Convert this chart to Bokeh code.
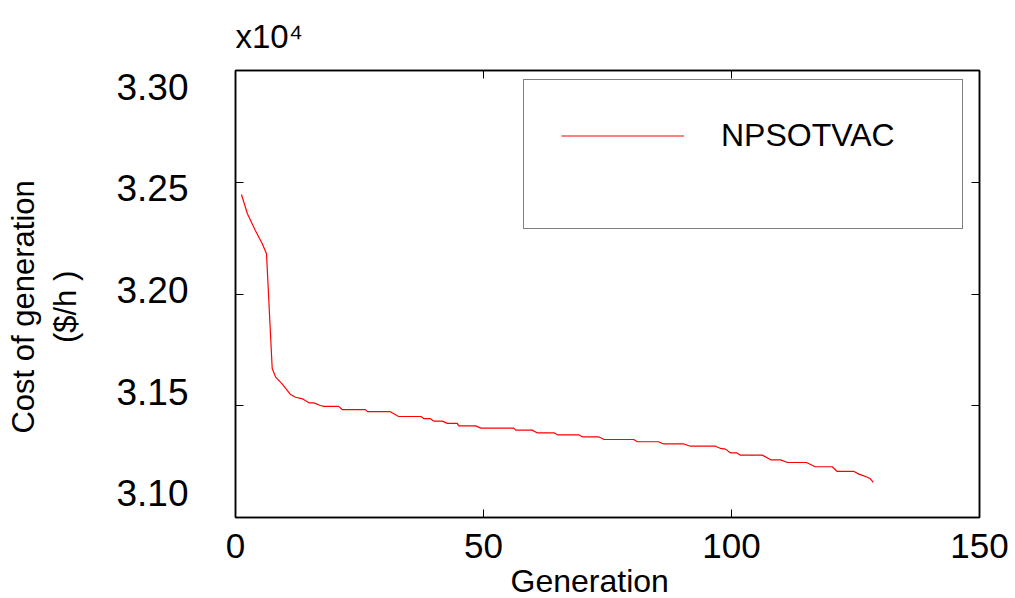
from bokeh.plotting import figure
from bokeh.models import (Range1d, LinearAxis, FixedTicker, NumeralTickFormatter,
                          CustomJSTickFormatter, Legend, LegendItem)
from bokeh.embed import file_html
from bokeh.resources import INLINE

# ---- data (cost in units of 10^4 $/h) ----
generation = [1.2, 2.4, 4.0, 5.4, 6.25, 7.4, 8.1, 9.4, 11.1, 12.1, 13.5, 14.8, 15.8,
              17.1, 17.8, 20.8, 21.5, 26.2, 26.6, 31.1, 32.9, 37.4, 38.0, 39.3, 40.0,
              41.7, 42.7, 44.7, 45.0, 48.4, 49.5, 56.1, 56.5, 59.8, 60.8, 64.2, 64.9,
              69.2, 69.9, 73.2, 74.3, 80.3, 81.0, 85.3, 86.3, 90.4, 91.7, 96.8, 97.8,
              98.8, 99.8, 101.1, 101.8, 106.2, 107.9, 109.9, 111.3, 115.1, 116.9,
              120.3, 121.3, 124.7, 125.7, 127.4, 128.0, 128.6]
cost = [3.2445, 3.2359, 3.2284, 3.2225, 3.2180, 3.1667, 3.1628, 3.1598, 3.1550,
        3.1538, 3.1531, 3.1513, 3.1513, 3.1501, 3.1497, 3.1497, 3.1483, 3.1483,
        3.1474, 3.1474, 3.1452, 3.1452, 3.1442, 3.1442, 3.1431, 3.1431, 3.1421,
        3.1421, 3.1410, 3.1410, 3.1400, 3.1400, 3.1391, 3.1391, 3.1379, 3.1379,
        3.1370, 3.1370, 3.1361, 3.1361, 3.1349, 3.1349, 3.1339, 3.1339, 3.1329,
        3.1329, 3.1319, 3.1319, 3.1309, 3.1306, 3.1289, 3.1289, 3.1279, 3.1279,
        3.1258, 3.1258, 3.1246, 3.1246, 3.1227, 3.1227, 3.1206, 3.1206, 3.1194,
        3.1180, 3.1173, 3.1157]
x_ticks = [0, 50, 100, 150]
y_ticks = [3.10, 3.15, 3.20, 3.25, 3.30]
series_name = "NPSOTVAC"
x_label = "Generation"
y_label_lines = ["Cost of generation", "($/h )"]
scale_text = "x10\u2074"

FONT = "Liberation Sans"
PAD = "\u00a0"  # non-breaking padding used to nudge centred labels like the original


def blank():
    # tick marks only, no tick texts
    return CustomJSTickFormatter(code="return ''")


p = figure(frame_width=744, frame_height=447,
           x_range=Range1d(0, 150), y_range=Range1d(3.10, 3.30),
           output_backend="svg", toolbar_location=None,
           min_border_left=235, min_border_top=70, min_border_right=36,
           min_border_bottom=81)
p.grid.visible = False
p.outline_line_color = "black"
p.outline_line_width = 1.5
p.background_fill_color = "white"

# scale factor shown above the axes
p.title.text = scale_text
p.title.align = "left"
p.title.offset = 0
p.title.text_font = FONT
p.title.text_font_size = "33px"
p.title.text_font_style = "normal"
p.title.text_color = "black"
p.title.standoff = 31

# bottom x axis
xa = p.xaxis[0]
xa.ticker = FixedTicker(ticks=x_ticks)
xa.major_label_text_font = FONT
xa.major_label_text_font_size = "35px"
xa.major_label_text_color = "black"
xa.major_tick_in = 8
xa.major_tick_out = 0
xa.minor_tick_line_color = None
xa.major_label_standoff = 16
xa.axis_line_color = "black"
xa.axis_line_width = 1.5
xa.axis_label = x_label + PAD * 4
xa.axis_label_text_font = FONT
xa.axis_label_text_font_size = "32px"
xa.axis_label_text_font_style = "normal"
xa.axis_label_text_color = "black"
xa.axis_label_standoff = 2

# left y axis: ticks only
ya = p.yaxis[0]
ya.ticker = FixedTicker(ticks=y_ticks)
ya.formatter = blank()
ya.major_tick_in = 8
ya.major_tick_out = 0
ya.minor_tick_line_color = None
ya.major_label_standoff = 0
ya.axis_line_color = "black"
ya.axis_line_width = 1.5

# y tick labels (placed as in the original figure)
p.extra_y_ranges = {"lab": Range1d(3.0881, 3.3079)}
yl = LinearAxis(y_range_name="lab", ticker=FixedTicker(ticks=y_ticks),
                formatter=NumeralTickFormatter(format="0.00"))
yl.axis_line_color = None
yl.major_tick_line_color = None
yl.major_tick_in = 0
yl.major_tick_out = 0
yl.minor_tick_line_color = None
yl.major_label_text_font = FONT
yl.major_label_text_font_size = "37px"
yl.major_label_text_color = "black"
yl.major_label_standoff = 47
yl.axis_label = "\n".join(line + PAD * 3 for line in y_label_lines)
yl.axis_label_text_font = FONT
yl.axis_label_text_font_size = "31px"
yl.axis_label_text_font_style = "normal"
yl.axis_label_text_color = "black"
yl.axis_label_standoff = 30
p.add_layout(yl, "left")

# mirrored ticks top / right
ta = LinearAxis(ticker=FixedTicker(ticks=x_ticks), formatter=blank(),
                major_tick_in=8, major_tick_out=0, minor_tick_line_color=None,
                major_label_standoff=0, axis_line_color="black", axis_line_width=1.5)
p.add_layout(ta, "above")
ra = LinearAxis(ticker=FixedTicker(ticks=y_ticks), formatter=blank(),
                major_tick_in=8, major_tick_out=0, minor_tick_line_color=None,
                major_label_standoff=0, axis_line_color="black", axis_line_width=1.5)
p.add_layout(ra, "right")

r = p.line(generation, cost, line_color="red", line_width=1.2)
# blank spacer entry so the legend box keeps its extra room below the entry
spacer = p.line([], [], line_color="white", line_alpha=0)

legend = Legend(items=[LegendItem(label=series_name, renderers=[r]),
                       LegendItem(label=" ", renderers=[spacer])],
                location=(288, 288), padding=37, spacing=0,
                glyph_width=123, glyph_height=37,
                label_height=37, label_width=204, label_standoff=37,
                label_text_font=FONT, label_text_font_size="32px",
                label_text_color="black",
                border_line_color="black", border_line_width=1.5, margin=0)
p.add_layout(legend)

open("out.html", "w").write(file_html(p, INLINE))
